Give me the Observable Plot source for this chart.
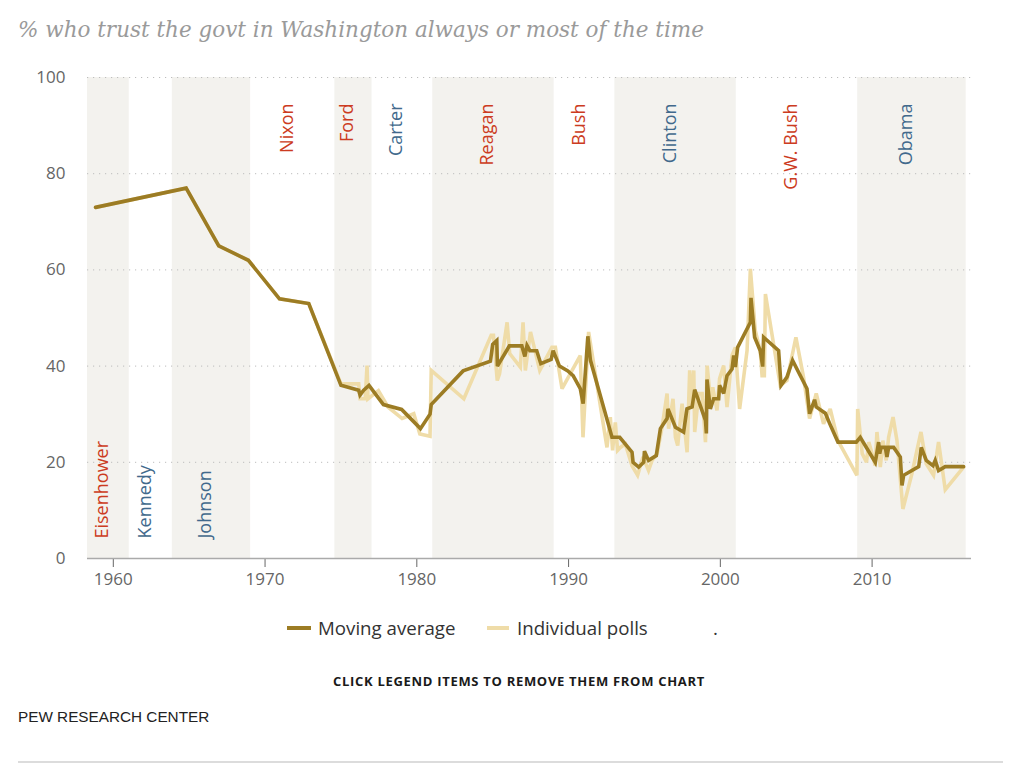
<!DOCTYPE html>
<html>
<head>
<meta charset="utf-8">
<script src="https://cdn.jsdelivr.net/npm/d3@7"></script>
<script src="https://cdn.jsdelivr.net/npm/@observablehq/plot@0.6"></script>
<style>
  body { margin: 0; background: #fff; font-family: "Open Sans", sans-serif; }
  #wrap { position: relative; width: 1023px; height: 781px; overflow: hidden; }
  #title { position: absolute; left: 18px; top: 15px; font-family: "DejaVu Serif", serif; font-style: italic;
           font-size: 20px; line-height: 30px; color: #9a9a9a; white-space: nowrap; }
  #chart { position: absolute; left: 0; top: 51px; }
  .leg { position: absolute; top: 616px; height: 24px; line-height: 24px; font-size: 18.7px; color: #333;
         white-space: nowrap; cursor: pointer; display: flex; align-items: center; }
  .sw { display: inline-block; height: 4px; margin-right: 7px; }
  #note { position: absolute; top: 672px; left: 0; width: 1023px; text-align: center; font-size: 13px;
          font-weight: bold; letter-spacing: 0.7px; color: #1a1a1a; line-height: 18px; padding-left: 15px; box-sizing: border-box; }
  #source { position: absolute; top: 708px; left: 18px; font-family: "Liberation Sans", Arial, sans-serif;
            font-size: 15.3px; color: #222; line-height: 18px; }
  #rule { position: absolute; top: 761px; left: 18px; width: 985px; height: 0; border-top: 2px solid #dcdcdc; }
</style>
</head>
<body>
<div id="wrap">
  <div id="title"></div>
  <div id="chart"></div>
  <div id="leg1" class="leg" style="left:287px"><span class="sw" style="width:24px;background:#9c7c24"></span><span id="leg1t"></span></div>
  <div id="leg2" class="leg" style="left:487px"><span class="sw" style="width:22px;background:#efdca8;margin-right:8px"></span><span id="leg2t"></span></div>
  <div class="leg" style="left:713px">.</div>
  <div id="note"></div>
  <div id="source"></div>
  <div id="rule"></div>
</div>
<script>
// ---- Text ----
const titleText = "% who trust the govt in Washington always or most of the time";
const seriesNames = ["Moving average", "Individual polls"];
const noteText = "CLICK LEGEND ITEMS TO REMOVE THEM FROM CHART";
const sourceText = "PEW RESEARCH CENTER";

// ---- Presidents ----
const presidents = ["Eisenhower", "Kennedy", "Johnson", "Nixon", "Ford", "Carter", "Reagan", "Bush", "Clinton", "G.W. Bush", "Obama"];
const termStart = [1953.05, 1961.05, 1963.89, 1969.05, 1974.6, 1977.05, 1981.05, 1989.05, 1993.05, 2001.05, 2009.05];
const termEnd   = [1961.05, 1963.89, 1969.05, 1974.6, 1977.05, 1981.05, 1989.05, 1993.05, 2001.05, 2009.05, 2016.2];
const party     = ["R", "D", "D", "R", "R", "D", "R", "R", "D", "R", "D"];

// ---- Axis ticks ----
const xTicks = [1960, 1970, 1980, 1990, 2000, 2010];
const yTicks = [0, 20, 40, 60, 80, 100];

// ---- Moving average ----
const maYears = [1958.83, 1964.8, 1966.95, 1968.9, 1970.95, 1972.88, 1975.0, 1976.17, 1976.26, 1976.5, 1976.85, 1977.8, 1979.0, 1980.24, 1980.87, 1980.95,
  1983.05, 1984.85, 1985.0, 1985.27, 1985.31, 1986.1, 1986.92, 1987.12, 1987.26, 1987.45, 1987.9, 1988.17, 1988.85, 1988.98,
  1989.4, 1989.95, 1990.3, 1990.77, 1990.96, 1991.27, 1991.44, 1992.86, 1993.37, 1994.18, 1994.25, 1994.62, 1994.95, 1995.0,
  1995.27, 1995.78, 1996.05, 1996.49, 1996.55, 1997.04, 1997.58, 1997.8, 1998.14, 1998.31, 1999.02, 1999.08, 1999.12, 1999.34,
  1999.56, 1999.89, 1999.95, 2000.22, 2000.44, 2000.77, 2000.88, 2000.99, 2001.14, 2001.98, 2002.02, 2002.26, 2002.63, 2002.79,
  2002.85, 2003.84, 2004.0, 2004.39, 2004.76, 2005.71, 2005.88, 2006.21, 2006.32, 2006.92, 2007.2, 2007.75, 2008.96, 2009.22,
  2010.21, 2010.43, 2010.5, 2010.59, 2010.87, 2010.98, 2011.09, 2011.42, 2011.86, 2011.97, 2012.08, 2013.07, 2013.24, 2013.57,
  2014.01, 2014.16, 2014.38, 2014.82, 2016.03];
const maValues = [73, 77, 65, 62, 54, 53, 36, 35, 34, 35, 36, 32, 31, 27, 30, 32,
  39, 41, 44.5, 45.3, 40, 44.2, 44.2, 42, 44.3, 43.2, 43.2, 40.5, 41.4, 43.2,
  40, 39, 38, 35.3, 32.2, 46.2, 41.2, 25.2, 25.2, 22.1, 20, 19, 20, 22.3,
  20.4, 21.4, 27, 29.1, 31.1, 27.3, 26.3, 31.1, 31.5, 35.1, 28.7, 26, 37.2, 31.1,
  33.2, 33.2, 36, 34.3, 38, 39.4, 42.2, 39.8, 43.9, 49.1, 54.2, 46, 43.2, 39.9,
  46, 43.2, 36, 37.7, 41.2, 35.3, 30.1, 33, 31.5, 30.2, 28.1, 24.2, 24.2, 25.2,
  20, 24.2, 21.8, 23.1, 23.1, 21.1, 23.1, 23.1, 21.1, 15.2, 17.3, 19.1, 23.1, 20.4,
  19.3, 20.4, 18.3, 19.1, 19.1];

// ---- Individual polls ----
const pollYears = [1958.83, 1964.8, 1966.95, 1968.9, 1970.95, 1972.88, 1975.0, 1976.17, 1976.26, 1976.6, 1976.72, 1976.78, 1977.47, 1978.1,
  1979.03, 1979.8, 1980.2, 1980.87, 1980.95, 1983.1, 1984.9, 1985.05, 1985.3, 1985.45, 1985.95, 1986.12, 1986.82, 1987.0, 1987.15,
  1987.49, 1988.1, 1988.9, 1989.13, 1989.57, 1990.77, 1990.95, 1991.32, 1992.53, 1992.75, 1992.9, 1993.08, 1993.23, 1993.41,
  1993.74, 1994.18, 1994.55, 1994.9, 1995.27, 1995.5, 1995.83, 1996.16, 1996.49, 1996.59, 1996.88, 1997.04, 1997.19, 1997.48,
  1997.81, 1997.98, 1998.14, 1998.25, 1998.31, 1998.58, 1998.8, 1999.02, 1999.13, 1999.34, 1999.5, 1999.78, 1999.95, 2000.22,
  2000.44, 2000.77, 2000.99, 2001.27, 2001.76, 2001.98, 2002.3, 2002.63, 2002.75, 2002.9, 2002.97, 2003.95, 2004.39, 2004.98,
  2005.48, 2005.88, 2006.32, 2006.8, 2007.24, 2007.75, 2009.0, 2009.05, 2009.35, 2009.63, 2009.78, 2010.0, 2010.2, 2010.32,
  2010.54, 2010.71, 2010.93, 2011.09, 2011.38, 2011.64, 2012.03, 2012.62, 2013.22, 2013.57, 2014.05, 2014.38, 2014.82, 2016.03];
const pollValues = [73, 77, 65, 62, 54, 53, 36.3, 36.3, 33.2, 33.2, 40.1, 33.2, 34.9, 31.5,
  29.1, 30.1, 25.9, 25.4, 39.1, 33.2, 46.4, 46.4, 37, 38.4, 49.1, 42.6, 39.8, 49.1, 39.1,
  47.1, 39.1, 43.9, 43.9, 35.3, 42.2, 25.2, 47.1, 23.1, 29.4, 22.5, 28.3, 22.5, 23.1,
  23.8, 19.3, 17.3, 21.1, 18.3, 20.4, 21.8, 27.3, 34.3, 27, 33.2, 25.2, 23.5, 32.2,
  22.1, 39.1, 31.5, 39.1, 26.3, 34.3, 34.3, 24.2, 40.1, 33.2, 35.6, 30.8, 37.4, 40.1,
  31.5, 42.2, 43.9, 31.1, 43.2, 60.2, 47.4, 43.2, 38, 38, 55, 36, 37, 46,
  37.7, 29.1, 34.3, 28, 31.1, 24.5, 17.3, 31.1, 21.8, 20, 24.2, 21.8, 19.3, 26.3,
  19, 24.5, 20.4, 25.2, 29.4, 24.5, 10.3, 17.6, 26.3, 19.7, 17.3, 24.2, 14.3, 19];

// ---- Styling (not data) ----
const xDomain = [1958.3, 2016.55];
const partyColor = { R: "#cc3b21", D: "#41698c" };
const maColor = "#9c7c24";
const pollColor = "#efdca8";
const bandColor = "#f3f2ee";
const bottomLabeled = new Set(["Eisenhower", "Kennedy", "Johnson"]);

const terms = presidents.map((name, i) => ({
  name, start: termStart[i], end: termEnd[i], party: party[i], i,
  mid: (Math.max(termStart[i], xDomain[0]) + termEnd[i]) / 2
}));
const ma = maYears.map((year, i) => ({ year, value: maValues[i] }));
const polls = pollYears.map((year, i) => ({ year, value: pollValues[i] }));

const visible = { ma: true, polls: true };

document.getElementById("title").textContent = titleText;
document.getElementById("leg1t").textContent = seriesNames[0];
document.getElementById("leg2t").textContent = seriesNames[1];
document.getElementById("note").textContent = noteText;
document.getElementById("source").textContent = sourceText;

// fit the title to the reference width
(function fitTitle() {
  const el = document.getElementById("title");
  const target = 686;
  const w = el.getBoundingClientRect().width;
  if (w > 0) el.style.fontSize = (20 * target / w).toFixed(2) + "px";
})();

function render() {
  const chart = Plot.plot({
    width: 1023,
    height: 548,
    marginLeft: 87,
    marginRight: 52,
    marginTop: 26,
    marginBottom: 41,
    style: { fontFamily: "Open Sans, sans-serif", fontSize: "17px", color: "#666", background: "#fff" },
    x: { domain: xDomain, ticks: xTicks, tickFormat: d => String(d), tickSize: 9, tickPadding: 5, label: null },
    y: { domain: [0, 100], ticks: yTicks, tickSize: 0, tickPadding: 22, label: null },
    color: { type: "identity" },
    marks: [
      Plot.rect(terms.filter(d => d.i % 2 === 0), { x1: "start", x2: "end", y1: 0, y2: 100, fill: bandColor, clip: true }),
      Plot.ruleY(yTicks.filter(t => t > 0), { stroke: "#bdbdbd", strokeWidth: 1, strokeDasharray: "1.2,4.8" }),
      Plot.ruleY([0], { stroke: "#aaa", strokeWidth: 1.5 }),
      Plot.text(terms.filter(d => !bottomLabeled.has(d.name)), {
        x: "mid", text: "name", rotate: -90, textAnchor: "end", lineAnchor: "bottom",
        frameAnchor: "top", dy: 26, fill: d => partyColor[d.party], fontSize: 18
      }),
      Plot.text(terms.filter(d => bottomLabeled.has(d.name)), {
        x: "mid", text: "name", rotate: -90, textAnchor: "start", lineAnchor: "bottom",
        frameAnchor: "bottom", dy: -20, fill: d => partyColor[d.party], fontSize: 18
      }),
      visible.polls ? Plot.line(polls, { x: "year", y: "value", stroke: pollColor, strokeWidth: 3.6, strokeLinejoin: "miter", strokeMiterlimit: 3 }) : null,
      visible.ma ? Plot.line(ma, { x: "year", y: "value", stroke: maColor, strokeWidth: 3.6, strokeLinejoin: "miter", strokeMiterlimit: 3 }) : null
    ]
  });
  const host = document.getElementById("chart");
  host.innerHTML = "";
  host.appendChild(chart);
}
render();

document.getElementById("leg1").addEventListener("click", () => {
  visible.ma = !visible.ma;
  document.getElementById("leg1").style.opacity = visible.ma ? 1 : 0.35;
  render();
});
document.getElementById("leg2").addEventListener("click", () => {
  visible.polls = !visible.polls;
  document.getElementById("leg2").style.opacity = visible.polls ? 1 : 0.35;
  render();
});
</script>
</body>
</html>
